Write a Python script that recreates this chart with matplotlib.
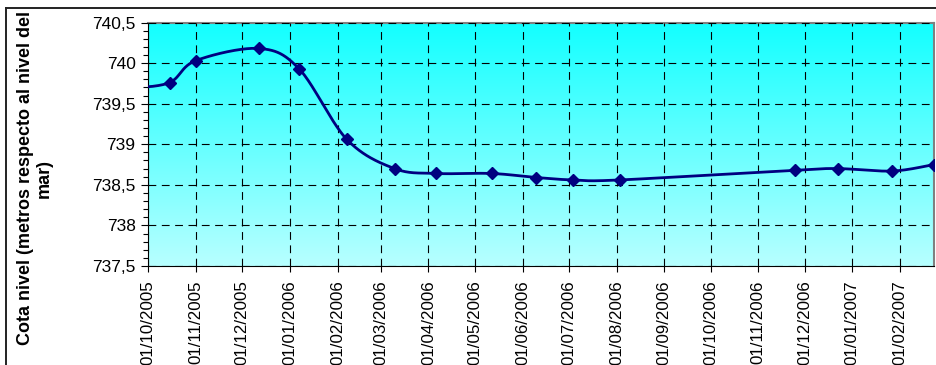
import datetime as dt
import numpy as np
import matplotlib
matplotlib.use("Agg")
import matplotlib.pyplot as plt
import matplotlib.dates as mdates
from matplotlib.lines import Line2D
from matplotlib.ticker import MultipleLocator, FuncFormatter

plt.rcParams['font.family'] = ['Liberation Sans', 'DejaVu Sans']

# Reservoir level readings (m above sea level)
fechas = [
    dt.date(2005, 9, 20), dt.date(2005, 10, 15), dt.date(2005, 11, 1),
    dt.date(2005, 12, 12), dt.date(2006, 1, 7), dt.date(2006, 2, 7),
    dt.date(2006, 3, 10), dt.date(2006, 4, 6), dt.date(2006, 5, 12),
    dt.date(2006, 6, 10), dt.date(2006, 7, 4), dt.date(2006, 8, 3),
    dt.date(2006, 11, 25), dt.date(2006, 12, 23), dt.date(2007, 1, 27),
    dt.date(2007, 2, 23),
]
cota = [739.69, 739.76, 740.03, 740.18, 739.93, 739.06, 738.70, 738.64,
        738.64, 738.59, 738.56, 738.56, 738.68, 738.70, 738.67, 738.75]

x_ini = dt.date(2005, 10, 1)
x_fin = dt.date(2007, 2, 23)
y_min, y_max = 737.5, 740.5


def suavizar(x, y, n=40):
    # Catmull-Rom style bezier smoothing between consecutive points
    px = np.concatenate([[x[0]], x, [x[-1]]])
    py = np.concatenate([[y[0]], y, [y[-1]]])
    xs, ys = [], []
    t = np.linspace(0, 1, n)
    for i in range(1, len(px) - 2):
        p0 = np.array([px[i], py[i]])
        p3 = np.array([px[i + 1], py[i + 1]])
        c1 = p0 + (p3 - np.array([px[i - 1], py[i - 1]])) / 6
        c2 = p3 - (np.array([px[i + 2], py[i + 2]]) - p0) / 6
        b = ((1 - t) ** 3)[:, None] * p0 + (3 * (1 - t) ** 2 * t)[:, None] * c1 \
            + (3 * (1 - t) * t ** 2)[:, None] * c2 + (t ** 3)[:, None] * p3
        xs.append(b[:, 0])
        ys.append(b[:, 1])
    return np.concatenate(xs), np.concatenate(ys)


xn = mdates.date2num(fechas)
xc, yc = suavizar(xn, np.array(cota))

fig = plt.figure(figsize=(9.36, 3.65), dpi=100)
ax = fig.add_axes([148 / 936, 1 - 266 / 365, (934 - 148) / 936, (266 - 22.5) / 365])

x0, x1 = mdates.date2num(x_ini), mdates.date2num(x_fin)

# vertical gradient background of the plot area
grad = np.linspace(0, 1, 256)[:, None]
top = np.array([0.07, 1.0, 1.0])
bot = np.array([0.72, 1.0, 1.0])
img = top[None, None, :] * (1 - grad[:, :, None]) + bot[None, None, :] * grad[:, :, None]
ax.imshow(img, extent=[x0, x1, y_min, y_max], aspect='auto', zorder=0,
          interpolation='bilinear')

ax.plot(xc, yc, color='#000080', lw=2, zorder=3, clip_on=True)
ax.plot(xn, cota, linestyle='none', marker='D', ms=6, color='#000080', zorder=4)

ax.set_xlim(x0, x1)
ax.set_ylim(y_min, y_max)

ax.xaxis.set_major_locator(mdates.MonthLocator())
ax.xaxis.set_major_formatter(mdates.DateFormatter('%d/%m/%Y'))
ax.yaxis.set_major_locator(MultipleLocator(0.5))
ax.yaxis.set_minor_locator(MultipleLocator(0.1))
ax.yaxis.set_major_formatter(FuncFormatter(lambda v, p: ('%g' % v).replace('.', ',')))

ax.grid(True, which='major', color='black', linestyle=(0, (7, 5)), lw=0.8, zorder=1)
ax.set_axisbelow(False)

ax.tick_params(axis='y', which='major', labelsize=12.5, length=5, width=0.8, pad=4)
ax.tick_params(axis='y', which='minor', length=3.5, width=0.8)
ax.tick_params(axis='x', which='major', labelsize=12.2, length=4, width=0.8, pad=6.5,
               labelrotation=90)

for s in ['top', 'right']:
    ax.spines[s].set_color('#808080')
    ax.spines[s].set_linewidth(1.5)
for s in ['left', 'bottom']:
    ax.spines[s].set_color('black')
    ax.spines[s].set_linewidth(0.8)

fig.text(35 / 936, 1 - 178 / 365, 'Cota nivel (metros respecto al nivel del\nmar)',
         rotation=90, ha='center', va='center', multialignment='center',
         fontsize=13, fontweight='bold', linespacing=1.1)

# outer chart border
fig.add_artist(Line2D([6 / 936, 1.0], [1 - 8 / 365, 1 - 8 / 365],
                      transform=fig.transFigure, color='#222222', lw=1.4))
fig.add_artist(Line2D([6 / 936, 6 / 936], [0.0, 1 - 8 / 365],
                      transform=fig.transFigure, color='#222222', lw=1.4))

fig.savefig('out.png', dpi=100)
